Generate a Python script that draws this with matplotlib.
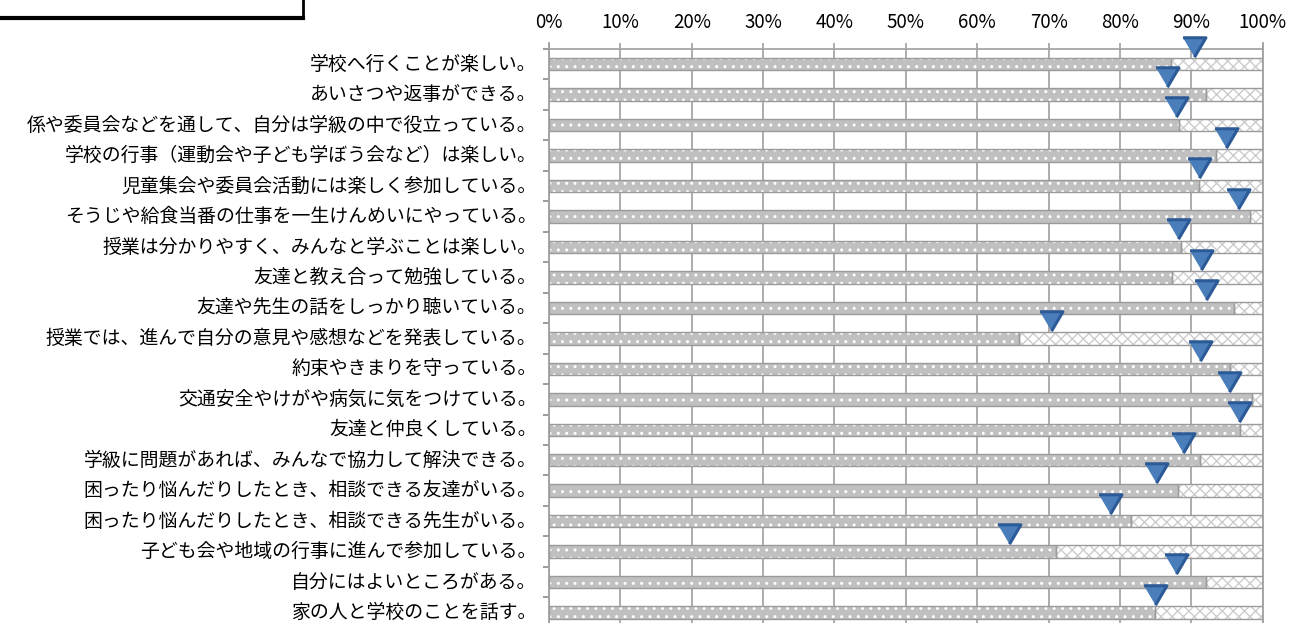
import numpy as np
import matplotlib
matplotlib.use('Agg')
import matplotlib.pyplot as plt
from matplotlib.lines import Line2D
from matplotlib.transforms import ScaledTranslation

plt.rcParams['font.family'] = ['Noto Sans CJK JP', 'DejaVu Sans']
plt.rcParams['hatch.linewidth'] = 1.0

# question items (top to bottom)
items = [
    '学校へ行くことが楽しい。',
    'あいさつや返事ができる。',
    '係や委員会などを通して、自分は学級の中で役立っている。',
    '学校の行事（運動会や子ども学ぼう会など）は楽しい。',
    '児童集会や委員会活動には楽しく参加している。',
    'そうじや給食当番の仕事を一生けんめいにやっている。',
    '授業は分かりやすく、みんなと学ぶことは楽しい。',
    '友達と教え合って勉強している。',
    '友達や先生の話をしっかり聴いている。',
    '授業では、進んで自分の意見や感想などを発表している。',
    '約束やきまりを守っている。',
    '交通安全やけがや病気に気をつけている。',
    '友達と仲良くしている。',
    '学級に問題があれば、みんなで協力して解決できる。',
    '困ったり悩んだりしたとき、相談できる友達がいる。',
    '困ったり悩んだりしたとき、相談できる先生がいる。',
    '子ども会や地域の行事に進んで参加している。',
    '自分にはよいところがある。',
    '家の人と学校のことを話す。',
]

# positive answers (%) - grey dotted bars
positive = [87.2, 92.0, 88.3, 93.5, 91.1, 98.2, 88.5, 87.3, 96.0, 65.9,
            95.4, 98.5, 96.8, 91.2, 88.1, 81.5, 71.1, 92.1, 84.9]
# previous result (%) - blue triangles
previous = [90.4, 86.6, 87.9, 94.9, 91.1, 96.5, 88.1, 91.3, 92.1, 70.4,
            91.2, 95.3, 96.7, 88.8, 85.0, 78.6, 64.5, 87.9, 84.9]

xticks = list(range(0, 101, 10))

W, H = 1299, 623
fig = plt.figure(figsize=(W / 100, H / 100), dpi=100)
top_px, bot_px, left_px, right_px = 42.7, 627.8, 549, 1262.7
ax = fig.add_axes([left_px / W, 1 - bot_px / H, (right_px - left_px) / W, (bot_px - top_px) / H])

y = np.arange(len(items))
pos = np.array(positive)
rest = 100 - pos
bh = 0.41

ax.barh(y, pos, height=bh, color='#c0c0c0', edgecolor='white', hatch='..', lw=0, zorder=2)
ax.barh(y, pos, height=bh, fill=False, edgecolor='#9a9a9a', lw=1, zorder=3)
ax.barh(y, rest, left=pos, height=bh, color='white', edgecolor='#cccccc', hatch='xxx', lw=0, zorder=2)
ax.barh(y, rest, left=pos, height=bh, fill=False, edgecolor='#9a9a9a', lw=1, zorder=3)

tri = [(-1, 0.85), (1, 0.85), (0, -0.85)]
ax.plot(previous, y - 0.58, ls='none', marker=tri, ms=16.5, mfc='#4a7ebb', mec='#2c5a96', mew=2.2, zorder=5, clip_on=False)

row_px = 30.46
ax.set_ylim(len(items) - 0.5, -0.5 - (49 - top_px) / row_px)
ax.set_xlim(0, 100)
ax.axhline(-0.5, color='#a6a6a6', lw=1.3, zorder=1)

ax.xaxis.tick_top()
ax.set_xticks(xticks)
ax.set_xticklabels([f'{v}%' for v in xticks], fontsize=13.5)
ax.tick_params(axis='x', length=0, pad=7)
ax.grid(axis='x', color='#a6a6a6', lw=1.3, zorder=0)
ax.set_axisbelow(True)

ax.set_yticks(y)
ax.set_yticklabels(items, fontsize=13.6)
ax.set_yticks(np.arange(-0.5, len(items), 1), minor=True)
ax.tick_params(axis='y', which='major', length=0, pad=9)
ax.tick_params(axis='y', which='minor', length=4.5, color='#8a8a8a', width=1.2)
# nudge labels up a little so the last one stays inside the picture
shift = ScaledTranslation(0, 1.8 / 72, fig.dpi_scale_trans)
for lab in ax.get_yticklabels():
    lab.set_transform(lab.get_transform() + shift)

for s in ['top', 'bottom']:
    ax.spines[s].set_visible(False)
for s in ['left', 'right']:
    ax.spines[s].set_color('#a0a0a0')
    ax.spines[s].set_linewidth(1.3)

# cut-off title box in the top-left corner
bx, by = 303 / W, 1 - 18 / H
fig.add_artist(Line2D([0, bx], [by, by], transform=fig.transFigure, color='black', lw=3))
fig.add_artist(Line2D([bx, bx], [by, 1], transform=fig.transFigure, color='black', lw=2))

fig.savefig('out.png', dpi=100)
